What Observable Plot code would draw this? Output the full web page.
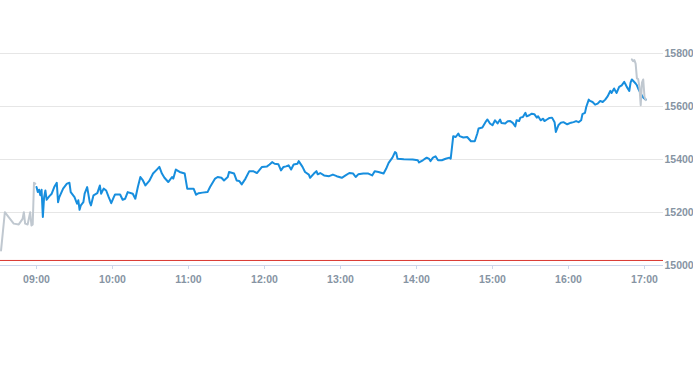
<!DOCTYPE html>
<html>
<head>
<meta charset="utf-8">
<script src="https://cdn.jsdelivr.net/npm/d3@7"></script>
<script src="https://cdn.jsdelivr.net/npm/@observablehq/plot@0.6"></script>
<style>
  html, body { margin: 0; padding: 0; background: #ffffff; }
  #chart { width: 693px; height: 365px; }
</style>
</head>
<body>
<div id="chart"></div>
<script>
// ---- Data ----
const preTimes = ["08:32","08:35","08:38","08:42","08:46","08:49","08:50","08:51","08:53","08:55","08:56","08:57","08:58","08:59"];
const preValues = [15057,15201,15183,15158,15155,15176,15201,15158,15155,15201,15151,15155,15312,15309];

const mainTimes = [
"09:00","09:01","09:02","09:03","09:04","09:05","09:06","09:07","09:08","09:10","09:12","09:14","09:16","09:17","09:18","09:21","09:24","09:26","09:27","09:30",
"09:32","09:33","09:34","09:35","09:37","09:38","09:40","09:42","09:43","09:45","09:48","09:50","09:51","09:53","09:55","09:57","09:59","10:01","10:02","10:06",
"10:08","10:10","10:12","10:16","10:18","10:20","10:22","10:24","10:26","10:29","10:32","10:35","10:37","10:39","10:41","10:44","10:47","10:48","10:50","10:53",
"10:57","10:59","11:02","11:04","11:06","11:08","11:11","11:15","11:17","11:21","11:23","11:26","11:28","11:31","11:32","11:36","11:38","11:40","11:42","11:45",
"11:48","11:51","11:54","11:58","12:02","12:04","12:06","12:08","12:11","12:13","12:15","12:17","12:19","12:21","12:23","12:26","12:27","12:30","12:32","12:35",
"12:36","12:39","12:41","12:42","12:44","12:47","12:51","12:54","12:57","13:01","13:04","13:07","13:10","13:12","13:14","13:18","13:22","13:25","13:27","13:30",
"13:34","13:36","13:38","13:41","13:43","13:44","13:45","13:50","13:57","14:01","14:02","14:05","14:08","14:10","14:11","14:13","14:15","14:17","14:20","14:23",
"14:26","14:27","14:29","14:31","14:33","14:34","14:37","14:40","14:43","14:46","14:48","14:49","14:52","14:55","14:56","14:58","15:00","15:02","15:04","15:06",
"15:07","15:10","15:12","15:14","15:16","15:18","15:19","15:21","15:22","15:24","15:26","15:27","15:29","15:31","15:33","15:35","15:36","15:38","15:40","15:41",
"15:43","15:45","15:47","15:49","15:50","15:52","15:54","15:56","15:59","16:02","16:04","16:06","16:08","16:10","16:11","16:13","16:14","16:16","16:17","16:19",
"16:21","16:23","16:25","16:27","16:29","16:31","16:32","16:33","16:34","16:36","16:37","16:38","16:40","16:42","16:44","16:45","16:46","16:48","16:49","16:50",
"16:51","16:53","16:54","16:55","16:57","16:59","17:01"
];
const mainValues = [
15296,15277,15286,15265,15286,15183,15258,15283,15248,15261,15271,15296,15312,15239,15258,15290,15309,15312,15277,15258,
15233,15246,15210,15227,15239,15271,15296,15239,15227,15265,15273,15302,15271,15290,15283,15258,15235,15258,15268,15268,
15248,15252,15277,15271,15252,15296,15334,15321,15302,15319,15347,15362,15372,15347,15331,15315,15334,15328,15362,15353,
15347,15290,15290,15290,15267,15273,15275,15277,15296,15328,15334,15331,15321,15334,15353,15347,15321,15319,15306,15328,
15356,15356,15349,15372,15374,15381,15390,15384,15382,15359,15372,15374,15378,15362,15381,15384,15394,15372,15353,15343,
15331,15347,15356,15344,15349,15340,15337,15343,15337,15331,15340,15349,15347,15334,15344,15347,15347,15340,15356,15353,
15347,15365,15387,15407,15428,15424,15403,15401,15400,15397,15389,15397,15407,15402,15394,15407,15412,15397,15397,15403,
15407,15403,15488,15485,15498,15488,15483,15485,15469,15469,15498,15517,15521,15545,15551,15536,15529,15548,15536,15551,
15538,15536,15544,15545,15538,15525,15548,15545,15558,15560,15576,15563,15567,15573,15571,15558,15563,15548,15554,15545,
15551,15557,15558,15541,15504,15529,15539,15541,15533,15539,15541,15545,15541,15548,15571,15576,15598,15626,15621,15617,
15607,15611,15621,15617,15626,15639,15649,15659,15651,15668,15659,15651,15674,15680,15693,15684,15674,15659,15690,15702,
15697,15687,15680,15668,15649,15634,15626
];

const postTimes = ["16:50","16:51","16:52","16:53","16:54","16:55","16:56","16:57","16:58","16:59","17:00","17:01"];
const postValues = [15778,15771,15775,15762,15706,15703,15674,15605,15690,15702,15636,15624];

const referenceValue = [15019];
const yTicks = [15000, 15200, 15400, 15600, 15800];
const gridValues = [15200, 15400, 15600, 15800];
const xTickLabels = ["09:00","10:00","11:00","12:00","13:00","14:00","15:00","16:00","17:00"];
const xDomainLabels = ["08:31:34", "17:15:00"];

// ---- helpers ----
function toDate(s) {
  const p = s.split(":").map(Number);
  return new Date(Date.UTC(2021, 5, 1, p[0], p[1], p[2] || 0));
}
function rows(times, values) {
  return times.map((t, i) => ({time: toDate(t), value: values[i]}));
}
const pre = rows(preTimes, preValues);
const main = rows(mainTimes, mainValues);
const post = rows(postTimes, postValues);

const chart = Plot.plot({
  width: 693,
  height: 365,
  marginTop: 53,
  marginBottom: 100,
  marginLeft: 0,
  marginRight: 30,
  style: {
    fontFamily: "'Liberation Sans', Arial, sans-serif",
    fontSize: "10.5px",
    fontWeight: "bold",
    background: "#ffffff",
    overflow: "visible"
  },
  x: {type: "utc", domain: xDomainLabels.map(toDate), label: null},
  y: {domain: [15000, 15800], label: null},
  marks: [
    Plot.ruleY(gridValues, {stroke: "#e6e6e6", strokeWidth: 1}),
    Plot.ruleY([15000], {stroke: "#ccd6eb", strokeWidth: 1}),
    Plot.ruleY(referenceValue, {stroke: "#d9362f", strokeWidth: 1}),
    Plot.axisX(xTickLabels.map(toDate), {
      label: null,
      tickFormat: d3.utcFormat("%H:%M"),
      tickSize: 4,
      tickPadding: 6,
      stroke: "#ccd6eb",
      fill: "#8694a3"
    }),
    Plot.axisY(yTicks, {
      label: null,
      anchor: "right",
      tickSize: 0,
      tickPadding: 1,
      tickFormat: d => String(d),
      fill: "#8694a3"
    }),
    Plot.lineY(pre, {x: "time", y: "value", stroke: "#c0c8d0", strokeWidth: 2}),
    Plot.lineY(main, {x: "time", y: "value", stroke: "#178ede", strokeWidth: 2}),
    Plot.lineY(post, {x: "time", y: "value", stroke: "#c0c8d0", strokeWidth: 2})
  ]
});
document.getElementById("chart").appendChild(chart);
</script>
</body>
</html>
